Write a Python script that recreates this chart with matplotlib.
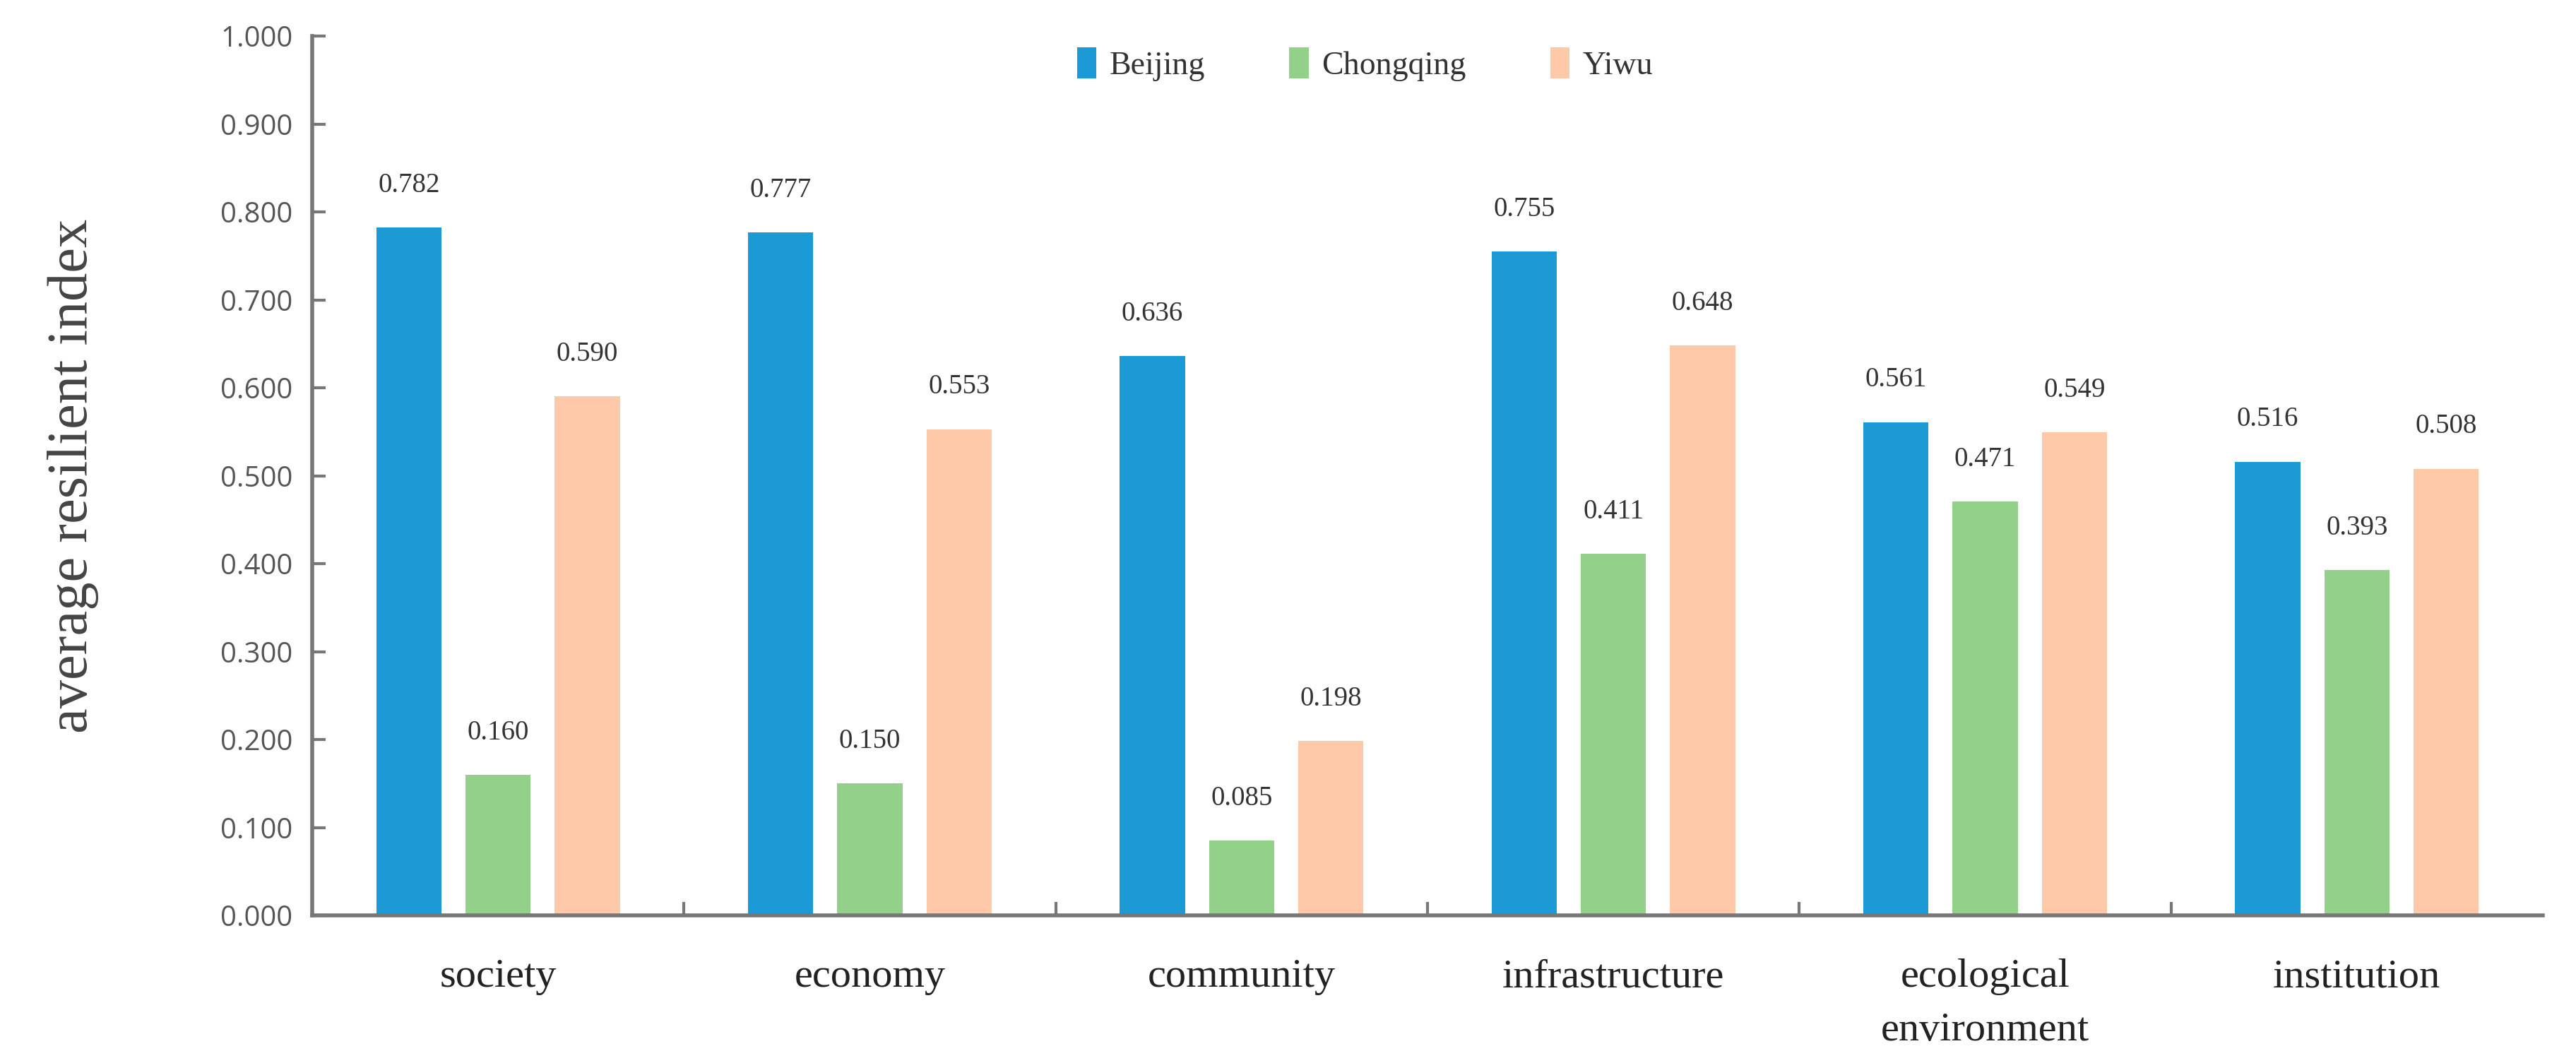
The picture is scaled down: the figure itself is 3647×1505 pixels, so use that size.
import matplotlib
matplotlib.use("Agg")
import matplotlib.pyplot as plt
import numpy as np

categories = ["society", "economy", "community", "infrastructure", "ecological\nenvironment", "institution"]
series_names = ["Beijing", "Chongqing", "Yiwu"]
beijing = [0.782, 0.777, 0.636, 0.755, 0.561, 0.516]
chongqing = [0.160, 0.150, 0.085, 0.411, 0.471, 0.393]
yiwu = [0.590, 0.553, 0.198, 0.648, 0.549, 0.508]
colors = ["#1b9ad6", "#93d18a", "#fdc9a8"]
yticks = [0.0, 0.1, 0.2, 0.3, 0.4, 0.5, 0.6, 0.7, 0.8, 0.9, 1.0]

W, H, DPI = 3647, 1505, 200
fig = plt.figure(figsize=(W / DPI, H / DPI), dpi=DPI)
ax = fig.add_axes([442 / W, 1 - 1296 / H, (3600 - 442) / W, (1296 - 51) / H])

x = np.arange(len(categories))
width = 0.175
offsets = [-0.24, 0.0, 0.24]
serif = ["Liberation Serif", "DejaVu Serif"]
sans = ["Open Sans", "DejaVu Sans"]

for vals, name, col, off in zip([beijing, chongqing, yiwu], series_names, colors, offsets):
    bars = ax.bar(x + off, vals, width, color=col, label=name, zorder=2)
    for b, v in zip(bars, vals):
        ax.text(b.get_x() + b.get_width() / 2, v + 0.033, f"{v:.3f}",
                ha="center", va="bottom", fontsize=14, family=serif, color="#333333")

ax.set_xlim(-0.5, len(categories) - 0.5)
ax.set_ylim(0, 1.0)
ax.set_yticks(yticks)
ax.set_yticklabels([f"{t:.3f}" for t in yticks], family=sans, fontsize=14.5, color="#555555")
ax.set_xticks(x)
ax.set_xticklabels(categories, family=serif, fontsize=21, color="#222222", linespacing=1.6)
ax.set_xticks(np.arange(len(categories) - 1) + 0.5, minor=True)
ax.tick_params(axis="x", which="major", length=0, pad=22)
ax.tick_params(axis="x", which="minor", direction="in", length=7, width=1.5, color="#777777")
ax.tick_params(axis="y", direction="in", length=7, width=1.5, color="#777777", pad=10)

for s in ["top", "right"]:
    ax.spines[s].set_visible(False)
for s in ["left", "bottom"]:
    ax.spines[s].set_color("#777777")
    ax.spines[s].set_linewidth(2.0)

ax.set_ylabel("average resilient index", family=serif, fontsize=29, color="#444444", labelpad=62)

leg = ax.legend(loc="upper center", bbox_to_anchor=(0.472, 1.02), ncol=3, frameon=False,
                prop={"family": serif, "size": 16.5}, handlelength=0.6, handleheight=1.1,
                columnspacing=2.6, handletextpad=0.4)
for t in leg.get_texts():
    t.set_color("#333333")

fig.savefig("out.png", dpi=DPI)
